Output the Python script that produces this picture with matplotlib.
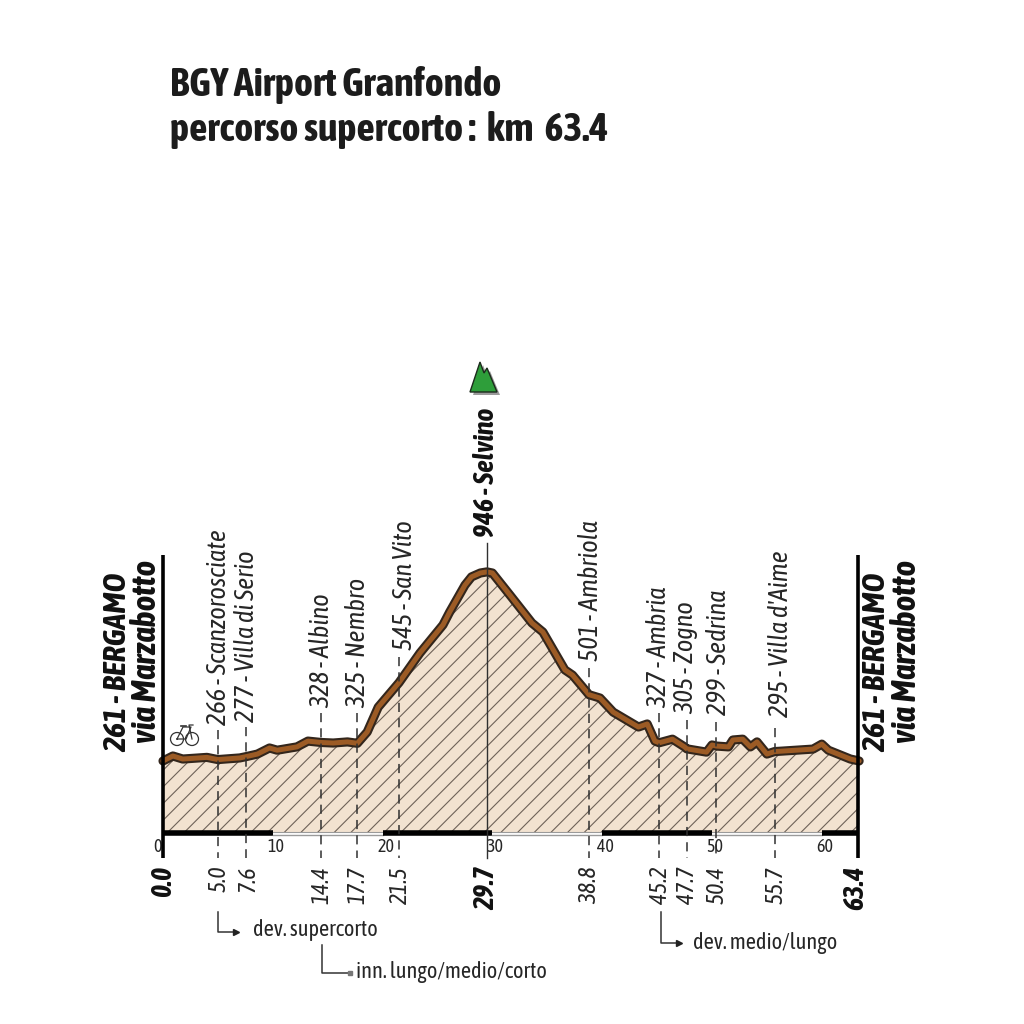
import matplotlib
matplotlib.use("Agg")
import matplotlib.pyplot as plt
from matplotlib.patches import Circle, Polygon

plt.rcParams['font.family'] = ['Asap Condensed', 'Liberation Sans', 'DejaVu Sans']
plt.rcParams['hatch.linewidth'] = 0.8

# profilo altimetrico
km = [0, 0.9, 1.8, 4.0, 5.0, 7.0, 7.6, 8.6, 9.7, 10.4, 12.2, 13.2, 14.4, 15.5, 16.8, 17.7,
      18.6, 19.6, 21.5, 23.4, 25.5, 26.1, 27.5, 28.1, 28.9, 29.5, 30.0, 31.6, 33.6, 34.6, 36.6, 37.3,
      38.8, 39.8, 41.0, 43.3, 44.1, 44.8, 45.2, 46.4, 47.5, 47.7, 49.5, 50.0, 50.4, 51.5, 51.9,
      52.8, 53.5, 54.1, 55.0, 55.7, 56.5, 59.2, 60.0, 60.6, 62.6, 63.4]
quota = [261, 279, 268, 274, 266, 272, 277, 286, 308, 300, 312, 333, 328, 326, 330, 325,
         366, 456, 545, 652, 754, 800, 898, 928, 942, 946, 942, 862, 761, 728, 591, 572,
         501, 489, 438, 384, 395, 333, 327, 340, 312, 305, 293, 319, 315, 312, 337,
         340, 312, 330, 286, 295, 297, 304, 322, 300, 268, 261]

# localita': posizione, etichetta km, testo, x testo, base testo, cima tratteggio
stop_km = [5.0, 7.6, 14.4, 17.7, 21.5, 38.8, 45.2, 47.7, 50.4, 55.7]
stop_lab = ['5.0', '7.6', '14.4', '17.7', '21.5', '38.8', '45.2', '47.7', '50.4', '55.7']
stop_name = ['266 - Scanzorosciate', '277 - Villa di Serio', '328 - Albino', '325 - Nembro',
             '545 - San Vito', '501 - Ambriola', '327 - Ambria', '305 - Zogno',
             '299 - Sedrina', "295 - Villa d'Aime"]
name_x = [218, 247, 322, 358, 405, 590, 659, 686, 718, 780]
name_base = [725, 722, 708, 708, 650, 661, 708, 714, 715, 717]
dash_top = [730, 727, 713, 713, 657, 668, 713, 720, 722, 728]

scale_km = [0, 10, 20, 30, 40, 50, 60]
scale_end = 63.4

col_text = '#262626'
col_fill = '#F2E2D0'
col_hatch = '#6E6258'

fig = plt.figure(figsize=(10.24, 10.24), dpi=100)
fig.patch.set_facecolor('white')

# asse dati: 10.98 px/km, 0.276 px/m, zero a y=833
ax = fig.add_axes([0, 0, 1, 1])
ax.set_xlim(-163 / 10.98, (1024 - 163) / 10.98)
ax.set_ylim((833 - 1024) / 0.276, 833 / 0.276)
ax.axis('off')

# asse in pixel per scritte e simboli
ov = fig.add_axes([0, 0, 1, 1])
ov.set_xlim(0, 1024)
ov.set_ylim(1024, 0)
ov.axis('off')
ov.patch.set_alpha(0)

ax.fill_between(km, quota, 0, facecolor=col_fill, edgecolor=col_hatch, hatch='//', linewidth=0, zorder=1)

# barra km alternata
for i, k in enumerate(scale_km):
    stop = scale_km[i + 1] if i + 1 < len(scale_km) else scale_end
    if i % 2 == 0:
        ax.plot([k, stop], [0, 0], color='black', lw=4, solid_capstyle='butt', zorder=3)
    else:
        ax.plot([k, stop], [-7, -7], color='#9a9a9a', lw=1, zorder=3)
        ax.plot([k, stop], [4, 4], color='#9a9a9a', lw=0.8, zorder=3)
    ov.text(163 + k * 10.98 + (3 if k else -5), 847, str(k), fontsize=13, color=col_text,
            ha='center', va='center')

# tratteggi
for k, top in zip(stop_km, dash_top):
    x = 163 + k * 10.98
    ov.plot([x, x], [top, 858], color='#303030', lw=1.1, dashes=(6, 4), zorder=4)

# Selvino e bordi
ov.plot([487, 487], [543, 858], color='#303030', lw=1, zorder=4)
ov.plot([163, 163], [555, 858], color='black', lw=2.6, solid_capstyle='butt', zorder=4)
ov.plot([858, 858], [555, 858], color='black', lw=2.6, solid_capstyle='butt', zorder=4)

# profilo
ax.plot(km, quota, color='#33261c', lw=6.6, solid_capstyle='round', solid_joinstyle='round', zorder=5)
ax.plot(km, quota, color='#9C5B25', lw=3.6, solid_capstyle='round', solid_joinstyle='round', zorder=6)

# nomi localita' e km
for k, lab, name, x, base in zip(stop_km, stop_lab, stop_name, name_x, name_base):
    ov.text(x, base, name, rotation=90, fontsize=19, style='italic', color=col_text,
            ha='center', va='bottom')
    ov.text(163 + k * 10.98 + 1, 866, lab, rotation=90, fontsize=17, style='italic', color=col_text,
            ha='center', va='top')

ov.text(486, 537, '946 - Selvino', rotation=90, fontsize=20, weight='bold', style='italic',
        color='#111111', ha='center', va='bottom')
for x, lab in [(164, '0.0'), (487, '29.7'), (856, '63.4')]:
    ov.text(x, 866, lab, rotation=90, fontsize=20, weight='bold', style='italic',
            color='#111111', ha='center', va='top')

# partenza / arrivo
for x1, x2 in [(118, 147), (877, 907)]:
    ov.text(x1, 752, '261 - BERGAMO', rotation=90, fontsize=23, weight='bold', style='italic',
            color='#111111', ha='center', va='bottom')
    ov.text(x2, 743, 'via Marzabotto', rotation=90, fontsize=24, weight='bold', style='italic',
            color='#111111', ha='center', va='bottom')

# titolo
ov.text(170, 85, 'BGY Airport Granfondo', fontsize=29, weight='bold', color='#1c1c1c', ha='left', va='center')
ov.text(170, 130, 'percorso supercorto :  km  63.4', fontsize=29, weight='bold', color='#1c1c1c',
        ha='left', va='center')

# frecce deviazioni
ov.plot([218, 218, 236], [912, 932, 932], color='#333333', lw=1.1)
ov.plot([236], [932], marker='>', color='#222222', ms=5)
ov.text(253, 930, 'dev. supercorto', fontsize=16, color=col_text, ha='left', va='center')
ov.plot([322, 322, 349], [945, 973, 973], color='#333333', lw=1.1)
ov.plot([350], [973], marker='s', color='#777777', ms=2.5)
ov.text(356, 972, 'inn. lungo/medio/corto', fontsize=16, color=col_text, ha='left', va='center')
ov.plot([661, 661, 679], [912, 943, 943], color='#333333', lw=1.1)
ov.plot([679], [943], marker='>', color='#222222', ms=5)
ov.text(693, 943, 'dev. medio/lungo', fontsize=16, color=col_text, ha='left', va='center')

# icona montagna
ov.add_patch(Polygon([(473, 395), (483, 365), (487, 375), (490, 371), (500, 395)], closed=True,
                     facecolor='#9a9a9a', edgecolor='none', zorder=7))
ov.add_patch(Polygon([(470, 392), (480, 362), (484, 373), (487, 368), (497, 392)], closed=True,
                     facecolor='#2E9E3A', edgecolor='#1c2a1c', lw=1, zorder=8))

# bicicletta
for cx in [177, 192]:
    ov.add_patch(Circle((cx, 739), 6.5, fill=False, edgecolor='#333333', lw=0.9, zorder=7))
ov.plot([177, 183, 191, 186, 177], [739, 727, 727, 739, 739], color='#333333', lw=0.9, zorder=7)
ov.plot([192, 189, 193], [739, 725, 725], color='#333333', lw=0.9, zorder=7)
ov.plot([181, 186], [726, 726], color='#333333', lw=1.2, zorder=7)

fig.savefig('out.png', dpi=100, facecolor='white')
